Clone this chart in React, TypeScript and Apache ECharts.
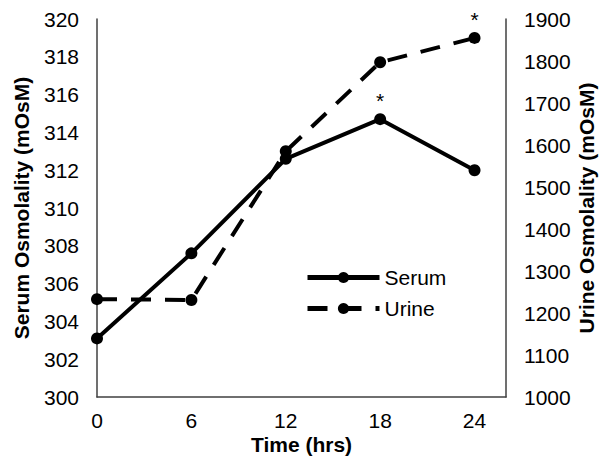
import React, { useEffect, useRef } from "react";
import * as echarts from "echarts";

const timePoints = [0, 6, 12, 18, 24];
const serumValues = [303.1, 307.6, 312.6, 314.7, 312.0];
const urineValues = [1233, 1231, 1585, 1797, 1855];
const serumStarIndex = [3];
const urineStarIndex = [4];

const FONT = "'Liberation Sans', Arial, sans-serif";

export default function App() {
  const ref = useRef<HTMLDivElement>(null);
  useEffect(() => {
    if (!ref.current) return;
    const chart = echarts.init(ref.current, undefined, { renderer: "svg" });
    const star = {
      show: true,
      formatter: "*",
      position: "top",
      distance: 2,
      fontSize: 21,
      color: "#000",
      fontFamily: FONT,
    };
    const serumData = timePoints.map((t, i) =>
      serumStarIndex.includes(i)
        ? { value: [t, serumValues[i]], label: star }
        : { value: [t, serumValues[i]] }
    );
    const urineData = timePoints.map((t, i) =>
      urineStarIndex.includes(i)
        ? { value: [t, urineValues[i]], label: star }
        : { value: [t, urineValues[i]] }
    );
    const axisLine = { show: true, lineStyle: { color: "#404040", width: 1.5 } };
    const titleStyle = { fontSize: 21, fontWeight: "bold", color: "#000", fontFamily: FONT };
    const labelStyle = { fontSize: 21, color: "#000", margin: 18, fontFamily: FONT };
    chart.setOption({
      animation: false,
      textStyle: { fontFamily: FONT },
      grid: { left: 97, right: 93, top: 19, bottom: 59, outerBoundsMode: "none", containLabel: false },
      legend: {
        orient: "vertical",
        left: 305,
        top: 267,
        padding: 0,
        itemWidth: 72,
        itemHeight: 14,
        itemGap: 10,
        lineStyle: { width: 5 },
        textStyle: { fontSize: 21, color: "#000", fontFamily: FONT },
        data: ["Serum", "Urine"],
      },
      xAxis: {
        type: "value",
        min: 0,
        max: 26,
        interval: 6,
        name: "Time (hrs)",
        nameLocation: "middle",
        nameGap: 37,
        nameMoveOverlap: false,
        nameTextStyle: titleStyle,
        axisLine,
        axisTick: { show: false },
        splitLine: { show: false },
        axisLabel: {
          ...labelStyle,
          margin: 13,
          formatter: (v: number) => (v % 6 === 0 && v <= 24 ? String(v) : ""),
        },
      },
      yAxis: [
        {
          type: "value",
          min: 300,
          max: 320,
          interval: 2,
          name: "Serum Osmolality (mOsM)",
          nameLocation: "middle",
          nameGap: 65,
          nameMoveOverlap: false,
          nameTextStyle: titleStyle,
          axisLine,
          axisTick: { show: false },
          splitLine: { show: false },
          axisLabel: { ...labelStyle, formatter: (v: number) => String(v) },
        },
        {
          type: "value",
          min: 1000,
          max: 1900,
          interval: 100,
          position: "right",
          name: "Urine Osmolality (mOsM)",
          nameLocation: "middle",
          nameGap: 70,
          nameMoveOverlap: false,
          nameTextStyle: titleStyle,
          axisLine,
          axisTick: { show: false },
          splitLine: { show: false },
          axisLabel: { ...labelStyle, formatter: (v: number) => String(v) },
        },
      ],
      series: [
        {
          name: "Serum",
          type: "line",
          yAxisIndex: 0,
          data: serumData,
          symbol: "circle",
          symbolSize: 12,
          itemStyle: { color: "#000" },
          lineStyle: { color: "#000", width: 4 },
        },
        {
          name: "Urine",
          type: "line",
          yAxisIndex: 1,
          data: urineData,
          symbol: "circle",
          symbolSize: 12,
          itemStyle: { color: "#000" },
          lineStyle: { color: "#000", width: 4, type: [20, 14] },
        },
      ],
    });
    return () => chart.dispose();
  }, []);
  return <div ref={ref} style={{ width: 599, height: 456, position: "absolute", left: 0, top: 0 }} />;
}
